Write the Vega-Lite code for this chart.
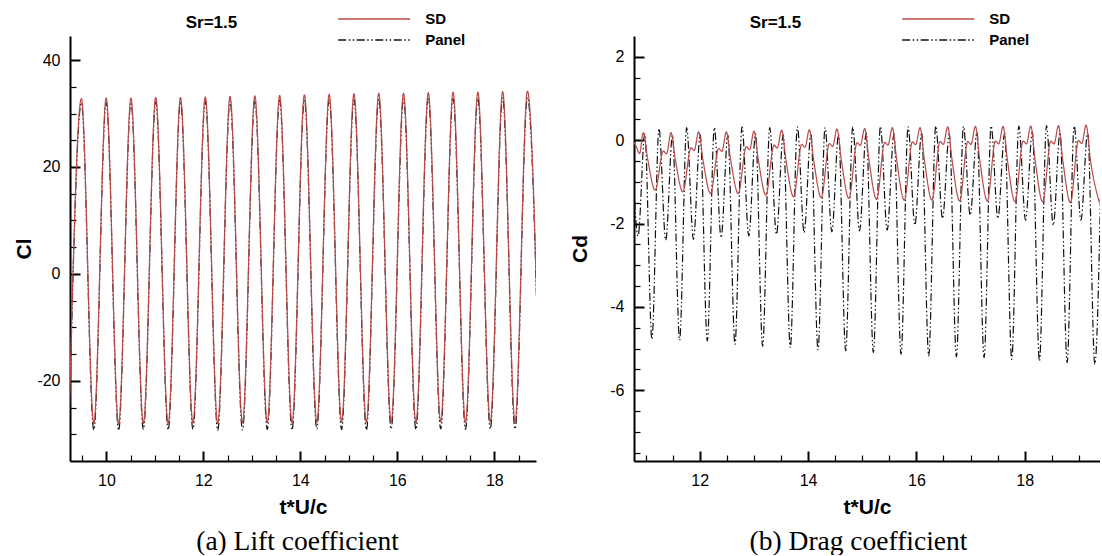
{
  "$schema": "https://vega.github.io/schema/vega-lite/v6.json",
  "padding": {"left": 13, "top": 11, "right": 0, "bottom": 0},
  "background": "white",
  "spacing": 98,
  "bounds": "flush",
  "resolve": {
    "scale": {"color": "independent", "strokeDash": "independent"},
    "legend": {"color": "independent", "strokeDash": "independent"}
  },
  "config": {
    "view": {"stroke": null},
    "font": "Liberation Sans",
    "axis": {
      "grid": false,
      "domainColor": "black",
      "domainWidth": 2,
      "tickColor": "black",
      "labelColor": "black",
      "titleColor": "black",
      "labelFont": "Liberation Sans",
      "labelFontSize": 16,
      "labelOverlap": false,
      "labelFlush": false,
      "titleFont": "Liberation Sans",
      "titleFontSize": 21,
      "titleFontWeight": "bold"
    },
    "legend": {
      "orient": "none", "legendX": 115.7, "legendY": -25, "titleOrient": "left", "titleAnchor": "start", "titlePadding": 99.5,
      "titleFont": "Liberation Sans", "titleFontSize": 17, "titleFontWeight": "bold", "titleColor": "black", "titleBaseline": "line-top", "titleLineHeight": 25,
      "symbolType": "stroke", "symbolSize": 5184, "symbolStrokeWidth": 1.3, "clipHeight": 16, "rowPadding": 5,
      "labelFont": "Liberation Sans", "labelFontSize": 15, "labelFontWeight": "bold", "labelColor": "black", "labelOffset": 14, "padding": 0
    }
  },
  "datasets": {
    "cl": [
      {"s":"Panel","t":9.230,"v":-29.3},{"s":"Panel","t":9.485,"v":32.0},{"s":"Panel","t":9.741,"v":-29.2},{"s":"Panel","t":9.996,"v":32.1},
      {"s":"Panel","t":10.252,"v":-29.3},{"s":"Panel","t":10.507,"v":32.1},{"s":"Panel","t":10.763,"v":-29.1},{"s":"Panel","t":11.018,"v":32.2},
      {"s":"Panel","t":11.274,"v":-29.2},{"s":"Panel","t":11.529,"v":32.2},{"s":"Panel","t":11.785,"v":-29.1},{"s":"Panel","t":12.040,"v":32.3},
      {"s":"Panel","t":12.296,"v":-29.3},{"s":"Panel","t":12.551,"v":32.3},{"s":"Panel","t":12.807,"v":-29.2},{"s":"Panel","t":13.062,"v":32.4},
      {"s":"Panel","t":13.318,"v":-29.1},{"s":"Panel","t":13.573,"v":32.5},{"s":"Panel","t":13.829,"v":-29.2},{"s":"Panel","t":14.084,"v":32.5},
      {"s":"Panel","t":14.340,"v":-29.0},{"s":"Panel","t":14.595,"v":32.6},{"s":"Panel","t":14.851,"v":-29.1},{"s":"Panel","t":15.106,"v":32.6},
      {"s":"Panel","t":15.362,"v":-29.2},{"s":"Panel","t":15.617,"v":32.7},{"s":"Panel","t":15.873,"v":-29.0},{"s":"Panel","t":16.128,"v":32.7},
      {"s":"Panel","t":16.384,"v":-29.1},{"s":"Panel","t":16.639,"v":32.8},{"s":"Panel","t":16.895,"v":-29.0},{"s":"Panel","t":17.150,"v":32.8},
      {"s":"Panel","t":17.406,"v":-29.1},{"s":"Panel","t":17.661,"v":32.9},{"s":"Panel","t":17.917,"v":-29.0},{"s":"Panel","t":18.172,"v":32.9},
      {"s":"Panel","t":18.428,"v":-29.0},{"s":"Panel","t":18.683,"v":33.0},{"s":"Panel","t":18.939,"v":-28.9},
      {"s":"SD","t":9.230,"v":-28.2},{"s":"SD","t":9.485,"v":32.8},{"s":"SD","t":9.741,"v":-28.0},{"s":"SD","t":9.996,"v":32.9},
      {"s":"SD","t":10.252,"v":-28.1},{"s":"SD","t":10.507,"v":32.9},{"s":"SD","t":10.763,"v":-28.0},{"s":"SD","t":11.018,"v":33.0},
      {"s":"SD","t":11.274,"v":-28.0},{"s":"SD","t":11.529,"v":33.0},{"s":"SD","t":11.785,"v":-27.9},{"s":"SD","t":12.040,"v":33.1},
      {"s":"SD","t":12.296,"v":-28.0},{"s":"SD","t":12.551,"v":33.2},{"s":"SD","t":12.807,"v":-27.9},{"s":"SD","t":13.062,"v":33.3},
      {"s":"SD","t":13.318,"v":-27.8},{"s":"SD","t":13.573,"v":33.4},{"s":"SD","t":13.829,"v":-27.9},{"s":"SD","t":14.084,"v":33.5},
      {"s":"SD","t":14.340,"v":-27.8},{"s":"SD","t":14.595,"v":33.6},{"s":"SD","t":14.851,"v":-27.7},{"s":"SD","t":15.106,"v":33.7},
      {"s":"SD","t":15.362,"v":-27.8},{"s":"SD","t":15.617,"v":33.8},{"s":"SD","t":15.873,"v":-27.7},{"s":"SD","t":16.128,"v":33.8},
      {"s":"SD","t":16.384,"v":-27.8},{"s":"SD","t":16.639,"v":33.9},{"s":"SD","t":16.895,"v":-27.7},{"s":"SD","t":17.150,"v":34.0},
      {"s":"SD","t":17.406,"v":-27.8},{"s":"SD","t":17.661,"v":34.0},{"s":"SD","t":17.917,"v":-27.7},{"s":"SD","t":18.172,"v":34.1},
      {"s":"SD","t":18.428,"v":-27.7},{"s":"SD","t":18.683,"v":34.2},{"s":"SD","t":18.939,"v":-27.6}
    ],
    "cd": [
      {"s":"Panel","t":10.737,"v":0.30},{"s":"Panel","t":10.862,"v":-2.30},{"s":"Panel","t":10.987,"v":0.15},
      {"s":"Panel","t":11.118,"v":-4.78},{"s":"Panel","t":11.248,"v":0.28},{"s":"Panel","t":11.373,"v":-2.40},{"s":"Panel","t":11.498,"v":0.12},
      {"s":"Panel","t":11.629,"v":-4.80},{"s":"Panel","t":11.759,"v":0.30},{"s":"Panel","t":11.884,"v":-2.38},{"s":"Panel","t":12.009,"v":0.14},
      {"s":"Panel","t":12.140,"v":-4.82},{"s":"Panel","t":12.270,"v":0.30},{"s":"Panel","t":12.395,"v":-2.34},{"s":"Panel","t":12.520,"v":0.12},
      {"s":"Panel","t":12.651,"v":-4.90},{"s":"Panel","t":12.781,"v":0.32},{"s":"Panel","t":12.906,"v":-2.30},{"s":"Panel","t":13.031,"v":0.15},
      {"s":"Panel","t":13.162,"v":-4.95},{"s":"Panel","t":13.292,"v":0.30},{"s":"Panel","t":13.417,"v":-2.26},{"s":"Panel","t":13.542,"v":0.13},
      {"s":"Panel","t":13.673,"v":-4.98},{"s":"Panel","t":13.803,"v":0.32},{"s":"Panel","t":13.928,"v":-2.22},{"s":"Panel","t":14.053,"v":0.16},
      {"s":"Panel","t":14.184,"v":-5.03},{"s":"Panel","t":14.314,"v":0.30},{"s":"Panel","t":14.439,"v":-2.20},{"s":"Panel","t":14.564,"v":0.14},
      {"s":"Panel","t":14.695,"v":-5.06},{"s":"Panel","t":14.825,"v":0.32},{"s":"Panel","t":14.950,"v":-2.18},{"s":"Panel","t":15.075,"v":0.17},
      {"s":"Panel","t":15.206,"v":-5.10},{"s":"Panel","t":15.336,"v":0.33},{"s":"Panel","t":15.461,"v":-2.16},{"s":"Panel","t":15.586,"v":0.15},
      {"s":"Panel","t":15.717,"v":-5.14},{"s":"Panel","t":15.847,"v":0.32},{"s":"Panel","t":15.972,"v":-2.04},{"s":"Panel","t":16.097,"v":0.18},
      {"s":"Panel","t":16.228,"v":-5.18},{"s":"Panel","t":16.358,"v":0.34},{"s":"Panel","t":16.483,"v":-1.88},{"s":"Panel","t":16.608,"v":0.16},
      {"s":"Panel","t":16.739,"v":-5.20},{"s":"Panel","t":16.869,"v":0.33},{"s":"Panel","t":16.994,"v":-1.80},{"s":"Panel","t":17.119,"v":0.19},
      {"s":"Panel","t":17.250,"v":-5.22},{"s":"Panel","t":17.380,"v":0.34},{"s":"Panel","t":17.505,"v":-1.88},{"s":"Panel","t":17.630,"v":0.17},
      {"s":"Panel","t":17.761,"v":-5.26},{"s":"Panel","t":17.891,"v":0.34},{"s":"Panel","t":18.016,"v":-1.92},{"s":"Panel","t":18.141,"v":0.20},
      {"s":"Panel","t":18.272,"v":-5.30},{"s":"Panel","t":18.402,"v":0.35},{"s":"Panel","t":18.527,"v":-2.04},{"s":"Panel","t":18.652,"v":0.18},
      {"s":"Panel","t":18.783,"v":-5.34},{"s":"Panel","t":18.913,"v":0.34},{"s":"Panel","t":19.038,"v":-1.92},{"s":"Panel","t":19.163,"v":0.20},
      {"s":"Panel","t":19.294,"v":-5.38},{"s":"Panel","t":19.424,"v":0.35},
      {"s":"SD","t":10.787,"v":-0.05},{"s":"SD","t":10.830,"v":-0.16},{"s":"SD","t":10.890,"v":-0.32},
      {"s":"SD","t":10.958,"v":0.18},{"s":"SD","t":11.038,"v":-0.44},{"s":"SD","t":11.178,"v":-1.20},{"s":"SD","t":11.328,"v":-0.26},{"s":"SD","t":11.388,"v":-0.33},
      {"s":"SD","t":11.469,"v":0.18},{"s":"SD","t":11.549,"v":-0.46},{"s":"SD","t":11.689,"v":-1.24},{"s":"SD","t":11.839,"v":-0.18},{"s":"SD","t":11.899,"v":-0.25},
      {"s":"SD","t":11.980,"v":0.20},{"s":"SD","t":12.060,"v":-0.47},{"s":"SD","t":12.200,"v":-1.28},{"s":"SD","t":12.350,"v":-0.20},{"s":"SD","t":12.410,"v":-0.27},
      {"s":"SD","t":12.491,"v":0.20},{"s":"SD","t":12.571,"v":-0.47},{"s":"SD","t":12.711,"v":-1.28},{"s":"SD","t":12.861,"v":-0.16},{"s":"SD","t":12.921,"v":-0.23},
      {"s":"SD","t":13.002,"v":0.22},{"s":"SD","t":13.082,"v":-0.47},{"s":"SD","t":13.222,"v":-1.32},{"s":"SD","t":13.372,"v":-0.12},{"s":"SD","t":13.432,"v":-0.19},
      {"s":"SD","t":13.513,"v":0.24},{"s":"SD","t":13.593,"v":-0.48},{"s":"SD","t":13.733,"v":-1.36},{"s":"SD","t":13.883,"v":-0.10},{"s":"SD","t":13.943,"v":-0.17},
      {"s":"SD","t":14.024,"v":0.25},{"s":"SD","t":14.104,"v":-0.48},{"s":"SD","t":14.244,"v":-1.38},{"s":"SD","t":14.394,"v":-0.08},{"s":"SD","t":14.454,"v":-0.15},
      {"s":"SD","t":14.535,"v":0.27},{"s":"SD","t":14.615,"v":-0.48},{"s":"SD","t":14.755,"v":-1.40},{"s":"SD","t":14.905,"v":-0.06},{"s":"SD","t":14.965,"v":-0.13},
      {"s":"SD","t":15.046,"v":0.28},{"s":"SD","t":15.126,"v":-0.49},{"s":"SD","t":15.266,"v":-1.42},{"s":"SD","t":15.416,"v":-0.05},{"s":"SD","t":15.476,"v":-0.12},
      {"s":"SD","t":15.557,"v":0.30},{"s":"SD","t":15.637,"v":-0.48},{"s":"SD","t":15.777,"v":-1.44},{"s":"SD","t":15.927,"v":-0.04},{"s":"SD","t":15.987,"v":-0.11},
      {"s":"SD","t":16.068,"v":0.30},{"s":"SD","t":16.148,"v":-0.48},{"s":"SD","t":16.288,"v":-1.44},{"s":"SD","t":16.438,"v":-0.03},{"s":"SD","t":16.498,"v":-0.10},
      {"s":"SD","t":16.579,"v":0.32},{"s":"SD","t":16.659,"v":-0.48},{"s":"SD","t":16.799,"v":-1.46},{"s":"SD","t":16.949,"v":-0.03},{"s":"SD","t":17.009,"v":-0.10},
      {"s":"SD","t":17.090,"v":0.33},{"s":"SD","t":17.170,"v":-0.48},{"s":"SD","t":17.310,"v":-1.46},{"s":"SD","t":17.460,"v":-0.02},{"s":"SD","t":17.520,"v":-0.09},
      {"s":"SD","t":17.601,"v":0.33},{"s":"SD","t":17.681,"v":-0.48},{"s":"SD","t":17.821,"v":-1.48},{"s":"SD","t":17.971,"v":-0.02},{"s":"SD","t":18.031,"v":-0.09},
      {"s":"SD","t":18.112,"v":0.34},{"s":"SD","t":18.192,"v":-0.48},{"s":"SD","t":18.332,"v":-1.48},{"s":"SD","t":18.482,"v":-0.02},{"s":"SD","t":18.542,"v":-0.09},
      {"s":"SD","t":18.623,"v":0.35},{"s":"SD","t":18.703,"v":-0.48},{"s":"SD","t":18.843,"v":-1.50},{"s":"SD","t":18.993,"v":-0.01},{"s":"SD","t":19.053,"v":-0.08},
      {"s":"SD","t":19.134,"v":0.36},{"s":"SD","t":19.214,"v":-0.48},{"s":"SD","t":19.380,"v":-1.50}
    ]
  },
  "hconcat": [
    {
      "width": 466,
      "height": 425,
      "data": {"name": "cl"},
      "layer": [
        {
          "mark": {"type": "line", "interpolate": "monotone", "clip": true, "strokeWidth": 1.2},
          "encoding": {
            "x": {"field": "t", "type": "quantitative",
              "scale": {"domain": [9.25, 18.86], "nice": false, "zero": false},
              "axis": {"orient": "bottom", "values": [10, 12, 14, 16, 18], "tickSize": -10, "tickWidth": 2, "labelPadding": 21,
                "title": "t*U/c", "titleY": 46, "titleBaseline": "middle"}},
            "y": {"field": "v", "type": "quantitative",
              "scale": {"domain": [-35, 44.5], "nice": false, "zero": false},
              "axis": {"orient": "left", "values": [-20, 0, 20, 40], "tickSize": -10, "tickWidth": 2, "labelPadding": 20,
                "labelExpr": "'' + datum.value",
                "title": "Cl", "titleX": -46, "titleBaseline": "middle"}},
            "color": {"field": "s", "type": "nominal",
              "scale": {"domain": ["SD", "Panel"], "range": ["#b84a4a", "#111111"]},
              "legend": {"title": "Sr=1.5"}},
            "strokeDash": {"field": "s", "type": "nominal",
              "scale": {"domain": ["SD", "Panel"], "range": [[1, 0], [8, 2.5, 1.5, 2.5, 1.5, 2.5]]},
              "legend": {"title": "Sr=1.5"}}
          }
        },
        {
          "mark": {"type": "point", "opacity": 0, "clip": true},
          "encoding": {
            "x": {"field": "t", "type": "quantitative",
              "axis": {"orient": "bottom", "values": [9.5, 10.5, 11, 11.5, 12.5, 13, 13.5, 14.5, 15, 15.5, 16.5, 17, 17.5, 18.5],
                "tickSize": -6, "tickWidth": 1.2, "labels": false, "domain": false,
                "title": "(a) Lift coefficient", "titleFont": "Liberation Serif", "titleFontWeight": "normal", "titleFontSize": 27.5,
                "titleX": 227, "titleY": 80, "titleAlign": "center", "titleBaseline": "middle"}},
            "y": {"field": "v", "type": "quantitative",
              "axis": {"orient": "left", "values": [-30, -25, -15, -10, -5, 5, 10, 15, 25, 30, 35],
                "tickSize": -6, "tickWidth": 1.2, "labels": false, "domain": false, "title": null}}
          }
        }
      ],
      "resolve": {"axis": {"x": "independent", "y": "independent"}}
    },
    {
      "width": 466,
      "height": 425,
      "data": {"name": "cd"},
      "layer": [
        {
          "mark": {"type": "line", "interpolate": "monotone", "clip": true, "strokeWidth": 1.2},
          "encoding": {
            "x": {"field": "t", "type": "quantitative",
              "scale": {"domain": [10.787, 19.39], "nice": false, "zero": false},
              "axis": {"orient": "bottom", "values": [12, 14, 16, 18], "tickSize": -10, "tickWidth": 2, "labelPadding": 21,
                "title": "t*U/c", "titleY": 46, "titleBaseline": "middle"}},
            "y": {"field": "v", "type": "quantitative",
              "scale": {"domain": [-7.7, 2.5], "nice": false, "zero": false},
              "axis": {"orient": "left", "values": [-6, -4, -2, 0, 2], "tickSize": -10, "tickWidth": 2, "labelPadding": 20,
                "labelExpr": "'' + datum.value",
                "title": "Cd", "titleX": -54, "titleBaseline": "middle"}},
            "color": {"field": "s", "type": "nominal",
              "scale": {"domain": ["SD", "Panel"], "range": ["#b84a4a", "#111111"]},
              "legend": {"title": "Sr=1.5"}},
            "strokeDash": {"field": "s", "type": "nominal",
              "scale": {"domain": ["SD", "Panel"], "range": [[1, 0], [8, 2.5, 1.5, 2.5, 1.5, 2.5]]},
              "legend": {"title": "Sr=1.5"}}
          }
        },
        {
          "mark": {"type": "point", "opacity": 0, "clip": true},
          "encoding": {
            "x": {"field": "t", "type": "quantitative",
              "axis": {"orient": "bottom", "values": [11, 11.5, 12.5, 13, 13.5, 14.5, 15, 15.5, 16.5, 17, 17.5, 18.5, 19],
                "tickSize": -6, "tickWidth": 1.2, "labels": false, "domain": false,
                "title": "(b) Drag coefficient", "titleFont": "Liberation Serif", "titleFontWeight": "normal", "titleFontSize": 27.5,
                "titleX": 224, "titleY": 80, "titleAlign": "center", "titleBaseline": "middle"}},
            "y": {"field": "v", "type": "quantitative",
              "axis": {"orient": "left", "values": [-7.5, -7, -6.5, -5.5, -5, -4.5, -3.5, -3, -2.5, -1.5, -1, -0.5, 0.5, 1, 1.5],
                "tickSize": -6, "tickWidth": 1.2, "labels": false, "domain": false, "title": null}}
          }
        }
      ],
      "resolve": {"axis": {"x": "independent", "y": "independent"}}
    }
  ]
}
